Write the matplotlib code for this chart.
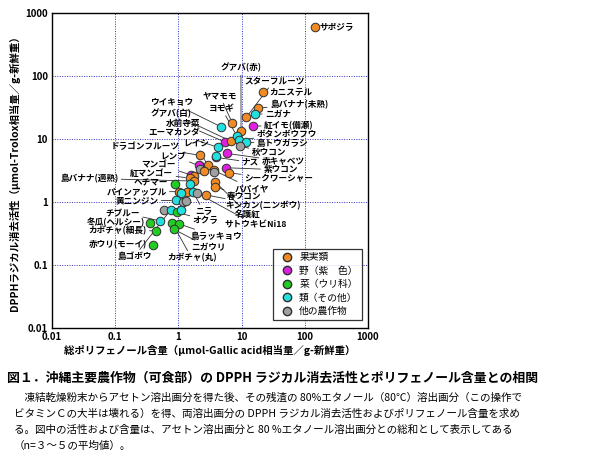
import matplotlib
matplotlib.use("Agg")
import matplotlib.pyplot as plt
from matplotlib.lines import Line2D
from matplotlib.ticker import FixedLocator, FixedFormatter

plt.rcParams["font.family"] = ["Noto Sans CJK JP", "DejaVu Sans"]

# group codes: F fruit, P purple veg, G cucurbit veg, C other veg, O other crops
names = ["サポジラ", "グアバ(赤)", "スターフルーツ", "カニステル", "島バナナ(未熟)", "ニガナ", "紅イモ(備瀬)",
         "ヤマモモ", "ウイキョウ", "水前寺菜", "グアバ(白)", "ヨモギ", "ボタンボウフウ", "島トウガラシ",
         "秋ウコン", "エーマカンダ", "ドラゴンフルーツ", "ナス", "", "赤キャベツ", "レイシ", "レンブ", "",
         "", "", "紫ウコン", "パパイヤ", "シークワーシャー", "", "", "マンゴー", "紅マンゴー", "島バナナ(適熟)",
         "ヘチマー", "", "名護紅", "春ウコン", "パインアップル", "", "", "ニラ", "サトウキビNi18",
         "キンカン(ニンボウ)", "黄ニンジン", "", "", "", "島ゴボウ", "オクラ", "", "チブルー", "冬瓜(ヘルシー)",
         "カボチャ(細長)", "赤ウリ(モーイ)", "カボチャ(丸)", "島ラッキョウ", "ニガウリ"]
polyphenol = [145, 9.8, 11.8, 21.5, 18, 16, 15.4,
              7.1, 4.8, 5.5, 6.7, 8.4, 9.2, 11.8,
              9.5, 4.2, 2.2, 4.0, 3.9, 5.9, 2.9, 2.2, 2.15,
              2.2, 2.5, 5.6, 3.6, 6.3, 3.7, 1.6, 1.75, 1.5, 1.77,
              0.89, 1.55, 3.8, 3.8, 1.04, 1.36, 1.1, 1.7, 2.0,
              2.7, 0.9, 1.17, 1.3, 0.6, 0.75, 0.94, 1.1, 0.52, 0.35,
              0.44, 0.39, 0.8, 1.02, 0.84]
dpph = [590, 13.5, 22, 56, 31, 25, 16,
        18, 15.5, 8.9, 9.3, 11.2, 9.6, 8.9,
        7.7, 7.4, 5.5, 5.1, 5.3, 5.9, 3.8, 3.7, 3.8,
        3.3, 3.1, 3.5, 3.2, 2.9, 3.0, 2.7, 2.6, 2.4, 2.15,
        1.95, 1.9, 2.1, 1.75, 1.46, 1.42, 1.38, 1.46, 1.38,
        1.3, 1.06, 1.0, 1.02, 0.75, 0.74, 0.69, 0.74, 0.5, 0.47,
        0.35, 0.21, 0.46, 0.45, 0.37]
groups = list("FFFFFCP" "FCPFCCC" "OCFPCPFFP" "OFPFFOPFFF" "GCFFFFCCOF" "COOOCGCCGG" "GGGGG")

colors = {"F": "#f08a24", "P": "#e020e0", "G": "#22cc22", "C": "#22e0e0", "O": "#a0a0a0"}
legend_labels = ["果実類", "野（紫　色）", "菜（ウリ科）", "類（その他）", "他の農作物"]

# label placement in reference pixel frame (x3 zoom), and alignment
label_pos = {
    "サポジラ": (840, 82, "left"), "グアバ(赤)": (603, 203, "center"), "スターフルーツ": (612, 242, "left"),
    "カニステル": (688, 275, "left"), "島バナナ(未熟)": (690, 315, "left"), "ニガナ": (675, 343, "left"),
    "紅イモ(備瀬)": (672, 377, "left"), "ヤマモモ": (540, 288, "center"), "ウイキョウ": (460, 308, "right"),
    "グアバ(白)": (455, 340, "right"), "水前寺菜": (480, 372, "right"), "ヨモギ": (545, 326, "center"),
    "ボタンボウフウ": (650, 402, "left"), "島トウガラシ": (650, 432, "left"), "秋ウコン": (635, 460, "left"),
    "エーマカンダ": (480, 400, "right"), "ドラゴンフルーツ": (420, 440, "right"), "レイシ": (468, 432, "center"),
    "ナス": (605, 488, "left"), "赤キャベツ": (665, 485, "left"), "レンブ": (440, 468, "right"),
    "紫ウコン": (670, 511, "left"), "シークワーシャー": (612, 538, "left"), "マンゴー": (408, 495, "right"),
    "紅マンゴー": (400, 522, "right"), "島バナナ(適熟)": (235, 537, "right"), "ヘチマー": (385, 552, "right"),
    "パパイヤ": (585, 568, "left"), "春ウコン": (560, 592, "left"), "パインアップル": (380, 577, "right"),
    "黄ニンジン": (355, 605, "right"), "キンカン(ニンボウ)": (555, 620, "left"), "ニラ": (465, 637, "left"),
    "名護紅": (585, 644, "left"), "チブルー": (300, 640, "right"), "オクラ": (458, 663, "left"),
    "冬瓜(ヘルシー)": (315, 670, "right"), "サトウキビNi18": (555, 678, "left"),
    "カボチャ(細長)": (320, 695, "right"), "島ラッキョウ": (450, 712, "left"),
    "赤ウリ(モーイ)": (320, 737, "right"), "ニガウリ": (455, 745, "left"), "島ゴボウ": (230, 773, "left"),
    "カボチャ(丸)": (455, 777, "center"),
}


def ref(zx, zy):
    return 10 ** ((zx - 35) / 190 - 2), 10 ** (3 - (zy - 38) / 190)


fig = plt.figure(figsize=(6.14, 4.61), dpi=100)
ax = fig.add_axes([52 / 614, 1 - 328 / 461, 316 / 614, 315 / 461])
ax.set_xscale("log")
ax.set_yscale("log")
ax.set_xlim(0.01, 1000)
ax.set_ylim(0.01, 1000)
ticks = [0.01, 0.1, 1, 10, 100, 1000]
tlabels = ["0.01", "0.1", "1", "10", "100", "1000"]
ax.xaxis.set_major_locator(FixedLocator(ticks))
ax.xaxis.set_major_formatter(FixedFormatter(tlabels))
ax.yaxis.set_major_locator(FixedLocator(ticks))
ax.yaxis.set_major_formatter(FixedFormatter(tlabels))
ax.minorticks_off()
ax.tick_params(labelsize=7, length=0, pad=3)
for lab in ax.get_xticklabels() + ax.get_yticklabels():
    lab.set_fontweight("bold")
ax.grid(True, color="#3030c0", linestyle=(0, (1, 1.5)), linewidth=0.7)
for s in ax.spines.values():
    s.set_linewidth(1.0)

for n, x, y, g in zip(names, polyphenol, dpph, groups):
    ax.scatter(x, y, s=38, color=colors[g], edgecolors="#303030", linewidths=0.7, zorder=4)
    if n in label_pos:
        zx, zy, ha = label_pos[n]
        tx, ty = ref(zx, zy)
        ax.annotate(n, (x, y), xytext=(tx, ty), fontsize=6.2, ha=ha, va="center", fontweight="bold",
                    arrowprops=dict(arrowstyle="-", color="#303030", lw=0.6, shrinkA=0, shrinkB=3),
                    zorder=3)

handles = [Line2D([], [], marker="o", ls="", markersize=6, markerfacecolor=colors[g],
                  markeredgecolor="#303030") for g in "FPGCO"]
leg = ax.legend(handles, legend_labels, loc="lower right", fontsize=7, frameon=True, fancybox=False,
                edgecolor="black", handletextpad=0.3, borderpad=0.4, labelspacing=0.35,
                bbox_to_anchor=(0.995, 0.01))
leg.get_frame().set_linewidth(0.9)

ax.set_xlabel("総ポリフェノール含量（μmol-Gallic acid相当量／g-新鮮重）", fontsize=7.5, fontweight="bold",
              labelpad=2)
ax.set_ylabel("DPPHラジカル消去活性（μmol-Trolox相当量／g-新鮮重）", fontsize=7.5, fontweight="bold",
              labelpad=4)

fig.text(0.012, 1 - 378 / 461, "図１．沖縄主要農作物（可食部）の DPPH ラジカル消去活性とポリフェノール含量との相関",
         fontsize=9.3, fontweight="bold", va="center")
body = ["　凍結乾燥粉末からアセトン溶出画分を得た後、その残渣の 80%エタノール（80℃）溶出画分（この操作で",
        "ビタミンＣの大半は壊れる）を得、両溶出画分の DPPH ラジカル消去活性およびポリフェノール含量を求め",
        "る。図中の活性および含量は、アセトン溶出画分と 80 %エタノール溶出画分との総和として表示してある",
        "（n=３～５の平均値）。"]
for i, line in enumerate(body):
    fig.text(0.022, 1 - (398 + 16 * i) / 461, line, fontsize=7.6, va="center")

fig.savefig("out.png", dpi=100)
